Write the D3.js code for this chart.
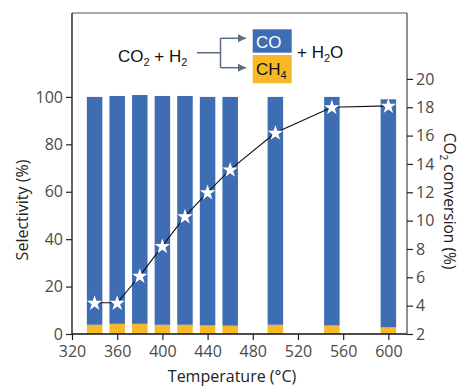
<!DOCTYPE html>
<html><head><meta charset="utf-8">
<script src="https://cdn.jsdelivr.net/npm/d3@7"></script>
<style>body{margin:0;background:#fff}svg{display:block}</style>
</head><body>
<svg id="c" width="462" height="388"></svg>
<script>
const temps = [340, 360, 380, 400, 420, 440, 460, 500, 550, 600];
const selTotal = [100, 100.4, 100.8, 100.4, 100.4, 100, 100, 100, 100, 99];
const ch4Sel = [3.9, 4.3, 4.3, 3.9, 3.9, 3.6, 3.5, 3.9, 3.6, 2.8];
const coSel = selTotal.map((t, i) => +(t - ch4Sel[i]).toFixed(2));
const conversion = [4.2, 4.2, 6.1, 8.2, 10.3, 12.0, 13.6, 16.2, 18.0, 18.1];
const xTicks = [320, 360, 400, 440, 480, 520, 560, 600];
const yLeftTicks = [0, 20, 40, 60, 80, 100];
const yRightTicks = [2, 4, 6, 8, 10, 12, 14, 16, 18, 20];

const BLUE = "#3e6db3", ORANGE = "#f8b928";
const svg = d3.select("#c");
const L = 72, R = 407, T = 13, B = 334;
const x = d3.scaleLinear().domain([320, 616.5]).range([L, R]);
const yL = d3.scaleLinear().domain([0, 135.4]).range([B, T]);
const yR = d3.scaleLinear().domain([2, 24.65]).range([B, T]);
const bw = 15.5;
const font = "'Open Sans', Lato, sans-serif";

// bars
const g = svg.append("g");
g.selectAll(".ch4").data(temps).join("rect")
  .attr("x", d => x(d) - bw / 2).attr("width", bw)
  .attr("y", (d, i) => yL(ch4Sel[i])).attr("height", (d, i) => yL(0) - yL(ch4Sel[i]))
  .attr("fill", ORANGE);
g.selectAll(".co").data(temps).join("rect")
  .attr("x", d => x(d) - bw / 2).attr("width", bw)
  .attr("y", (d, i) => yL(ch4Sel[i] + coSel[i])).attr("height", (d, i) => yL(ch4Sel[i]) - yL(ch4Sel[i] + coSel[i]))
  .attr("fill", BLUE);

// line + stars
const line = d3.line().x((d, i) => x(temps[i])).y(d => yR(d));
svg.append("path").datum(conversion).attr("d", line).attr("fill", "none").attr("stroke", "#111").attr("stroke-width", 1.1);
svg.selectAll(".star").data(conversion).join("path")
  .attr("transform", (d, i) => `translate(${x(temps[i])},${yR(d) + 0.5})`)
  .attr("d", d3.symbol(d3.symbolStar, 75)).attr("fill", "#fff");

// frame top
svg.append("line").attr("x1", L).attr("x2", R).attr("y1", T).attr("y2", T).attr("stroke", "#555").attr("stroke-width", 1.2);

// axes
const ax = svg.append("g").attr("transform", `translate(0,${B})`)
  .call(d3.axisBottom(x).tickValues(xTicks).tickSize(6).tickSizeOuter(0).tickPadding(6));
const ayl = svg.append("g").attr("transform", `translate(${L},0)`)
  .call(d3.axisLeft(yL).tickValues(yLeftTicks).tickSize(6).tickSizeOuter(0).tickPadding(3));
const ayr = svg.append("g").attr("transform", `translate(${R},0)`)
  .call(d3.axisRight(yR).tickValues(yRightTicks).tickSize(6).tickSizeOuter(0).tickPadding(3));
[ax, ayl, ayr].forEach(a => {
  a.selectAll("text").attr("font-family", font).attr("font-size", 16).attr("fill", "#4a4a4a");
  a.selectAll("line").attr("stroke", "#222").attr("stroke-width", 1.2);
  a.select(".domain").attr("stroke", "#111").attr("stroke-width", 1.3);
});
ayr.select(".domain").attr("d", `M0,${B}V${T}`).attr("stroke", "#555");
ax.select(".domain").attr("d", `M${L},0H${R}`);
ayl.select(".domain").attr("d", `M0,${B}V${T}`);

// titles
svg.append("text").attr("x", 232).attr("y", 382).attr("text-anchor", "middle")
  .attr("font-family", font).attr("font-size", 16).attr("fill", "#222").text("Temperature (°C)");
svg.append("text").attr("transform", "translate(28,210) rotate(-90)").attr("text-anchor", "middle")
  .attr("font-family", font).attr("font-size", 16).attr("fill", "#222").text("Selectivity (%)");
const rt = svg.append("text").attr("transform", "translate(444,201) rotate(90)").attr("text-anchor", "middle")
  .attr("font-family", font).attr("font-size", 15.5).attr("fill", "#222");
rt.append("tspan").text("CO");
rt.append("tspan").attr("font-size", 10).attr("dy", 4).text("2");
rt.append("tspan").attr("dy", -4).text(" conversion (%)");

// reaction scheme
const af = "'Liberation Sans', Arial, sans-serif";
const t1 = svg.append("text").attr("x", 118).attr("y", 61.5).attr("font-family", af).attr("font-size", 17).attr("fill", "#111");
t1.append("tspan").text("CO");
t1.append("tspan").attr("font-size", 11).attr("dy", 4).text("2");
t1.append("tspan").attr("dy", -4).text(" + H");
t1.append("tspan").attr("font-size", 11).attr("dy", 4).text("2");

const ac = "#5b6b86";
svg.append("defs").append("marker").attr("id", "ah").attr("viewBox", "0 0 10 10")
  .attr("refX", 10).attr("refY", 5).attr("markerWidth", 8).attr("markerHeight", 8).attr("markerUnits", "userSpaceOnUse")
  .attr("orient", "auto").append("path").attr("d", "M0,0L10,5L0,10z").attr("fill", ac);
svg.append("path").attr("d", "M197,52.7H220.5M220.5,38.3V67.7").attr("stroke", ac).attr("stroke-width", 1.5).attr("fill", "none");
svg.append("path").attr("d", "M220.5,38.3H246").attr("stroke", ac).attr("stroke-width", 1.5).attr("marker-end", "url(#ah)");
svg.append("path").attr("d", "M220.5,67.7H246").attr("stroke", ac).attr("stroke-width", 1.5).attr("marker-end", "url(#ah)");

svg.append("rect").attr("x", 252.7).attr("y", 29.3).attr("width", 39).attr("height", 23.4).attr("fill", BLUE);
svg.append("rect").attr("x", 252.7).attr("y", 55).attr("width", 39).attr("height", 28.3).attr("fill", ORANGE);
svg.append("text").attr("x", 256).attr("y", 47.5).attr("font-family", af).attr("font-size", 17).attr("fill", "#fff").text("CO");
const t2 = svg.append("text").attr("x", 256).attr("y", 75).attr("font-family", af).attr("font-size", 17).attr("fill", "#111");
t2.append("tspan").text("CH");
t2.append("tspan").attr("font-size", 11).attr("dy", 4).text("4");
const t3 = svg.append("text").attr("x", 297).attr("y", 57.5).attr("font-family", af).attr("font-size", 17).attr("fill", "#111");
t3.append("tspan").text("+ H");
t3.append("tspan").attr("font-size", 11).attr("dy", 4).text("2");
t3.append("tspan").attr("dy", -4).text("O");
</script>
</body></html>
